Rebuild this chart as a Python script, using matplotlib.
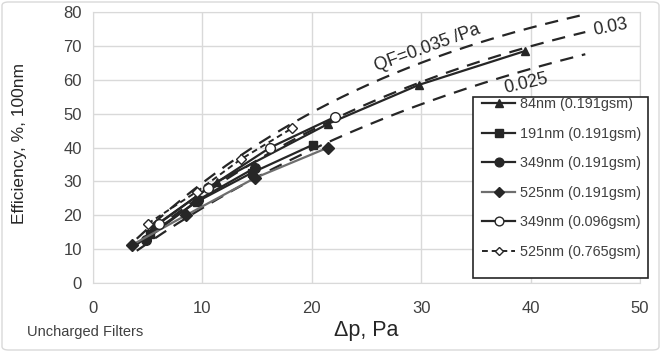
import numpy as np
import matplotlib
matplotlib.use("Agg")
import matplotlib.pyplot as plt
from matplotlib.patches import FancyBboxPatch, Rectangle

plt.rcParams['font.family'] = ['Liberation Sans', 'DejaVu Sans']

# Data
x_84 = [5.5, 11.3, 21.5, 29.8, 39.5]
y_84 = [16.5, 29.8, 47.0, 58.5, 68.5]
x_191 = [5.2, 9.5, 14.5, 20.1]
y_191 = [14.5, 24.0, 32.5, 40.8]
x_349 = [4.8, 9.6, 14.8]
y_349 = [12.8, 24.5, 34.0]
x_525 = [3.6, 8.5, 14.8, 21.5]
y_525 = [11.3, 20.0, 31.0, 40.0]
x_349b = [6.0, 10.5, 16.2, 22.1]
y_349b = [17.5, 28.0, 40.0, 49.0]
x_525b = [5.0, 9.5, 13.5, 18.2]
y_525b = [17.5, 27.0, 36.5, 45.7]

qf_values = [0.035, 0.03, 0.025]
qf_labels = ["QF=0.035 /Pa", "0.03", "0.025"]
dp_range = (4.0, 45.0)

x_ticks = [0, 10, 20, 30, 40, 50]
y_ticks = [0, 10, 20, 30, 40, 50, 60, 70, 80]

W, H = 661, 352
fig = plt.figure(figsize=(W/100, H/100), dpi=100)
ax = fig.add_axes([93/W, 1-283/H, (640-93)/W, (283-12)/H])

dark = '#262626'
# QF reference curves
dp = np.linspace(dp_range[0], dp_range[1], 200)
for qf in qf_values:
    ax.plot(dp, 100*(1-np.exp(-qf*dp)), color=dark, lw=1.6, dashes=(6, 4), zorder=2)

ax.plot(x_84, y_84, color=dark, lw=1.6, marker='^', ms=6, label='84nm (0.191gsm)', zorder=3)
ax.plot(x_191, y_191, color=dark, lw=1.6, marker='s', ms=6, label='191nm (0.191gsm)', zorder=3)
ax.plot(x_349, y_349, color=dark, lw=1.6, marker='o', ms=7, label='349nm (0.191gsm)', zorder=3)
ax.plot(x_525, y_525, color='#6e6e6e', lw=1.6, marker='D', ms=6, mfc=dark, mec=dark,
        label='525nm (0.191gsm)', zorder=3)
ax.plot(x_349b, y_349b, color=dark, lw=1.6, marker='o', ms=7, mfc='white', mec=dark,
        label='349nm (0.096gsm)', zorder=3)
ax.plot(x_525b, y_525b, color=dark, lw=1.4, ls=(0, (3, 2)), marker='D', ms=5, mfc='white',
        mec=dark, label='525nm (0.765gsm)', zorder=3)

ax.set_xlim(0, 50)
ax.set_ylim(0, 80)
ax.set_xticks(x_ticks)
ax.set_yticks(y_ticks)
ax.grid(True, color='#d9d9d9', lw=1)
ax.set_axisbelow(True)
for s in ax.spines.values():
    s.set_color('#d9d9d9')
ax.tick_params(length=0, labelsize=12, colors='#404040')
ax.tick_params(axis='x', pad=13)
ax.tick_params(axis='y', pad=8)
ax.set_xlabel('Δp, Pa', fontsize=15.5, color='#262626', labelpad=3)
ax.set_ylabel('Efficiency, %, 100nm', fontsize=12.5, color='#262626')
ax.yaxis.set_label_coords((27-93)/547, (283-143)/271)

ax.text(30.6, 69.3, qf_labels[0], rotation=20, fontsize=12.8, color=dark, ha='center', va='center')
ax.text(47.3, 75.4, qf_labels[1], rotation=11, fontsize=12.8, color=dark, ha='center', va='center')
ax.text(39.6, 58.8, qf_labels[2], rotation=13, fontsize=12.8, color=dark, ha='center', va='center')

leg = ax.legend(loc='upper left', bbox_to_anchor=(482/W, 1-97/H), bbox_transform=fig.transFigure,
                fontsize=10.4, frameon=False, handlelength=2.3, handletextpad=0.3,
                labelspacing=1.08, borderpad=0, borderaxespad=0, markerscale=0.9)
for t in leg.get_texts():
    t.set_color('#404040')
frame = Rectangle((473/W, 1-278/H), (648-473)/W, (278-97)/H, transform=fig.transFigure,
                  facecolor='white', edgecolor=dark, lw=1.2, zorder=5)
fig.patches.append(frame)
leg.remove()
fig.legends.append(leg)
leg.set_figure(fig)

fig.text(27/W, 1-332/H, 'Uncharged Filters', fontsize=10.5, color='#404040', va='center')

border = FancyBboxPatch((2/W, 2/H), 1-4/W, 1-4/H, boxstyle='round,pad=0,rounding_size=0.01',
                        transform=fig.transFigure, fill=False, edgecolor='#d9d9d9', lw=1)
fig.patches.append(border)

fig.savefig('out.png', dpi=100)
